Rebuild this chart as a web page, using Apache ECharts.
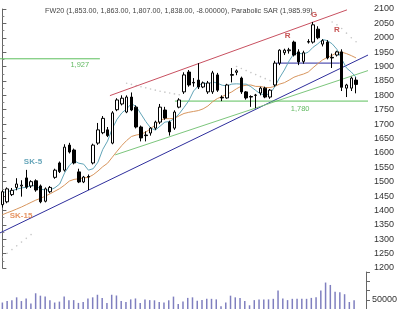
<!DOCTYPE html>
<html>
<head>
<meta charset="utf-8">
<script src="https://cdn.jsdelivr.net/npm/echarts@6/dist/echarts.min.js"></script>
<style>html,body{margin:0;padding:0;background:#fff;}#c{width:400px;height:309px;}</style>
</head>
<body>
<div id="c"></div>
<script>
// ---- data ----
var open = [1420,1430,1455,1480,1485,1513,1485,1503,1485,1432, 1465,1515,1565,1540,1627,1610,1534,1499,1518,1565, 1634,1670,1680,1634,1750,1770,1742,1794,1759,1690, 1662,1669,1686,1707,1749,1707,1686,1759,1812,1881, 1845,1853,1829,1812,1812,1871,1793,1791,1872,1880, 1860,1812,1796,1800,1808,1825,1794,1836,1912,1948, 1955,1985,1951,1918,1985,1985,2030,1978,1985,1932, 1940,1951,1825,1825,1853];
var close = [1465,1475,1470,1492,1488,1481,1500,1471,1430,1475, 1480,1540,1535,1620,1603,1565,1499,1516,1516,1627, 1680,1720,1660,1739,1784,1790,1794,1749,1690,1652, 1660,1686,1707,1759,1721,1673,1742,1784,1871,1836, 1843,1829,1843,1843,1878,1818,1791,1836,1870,1885, 1812,1791,1794,1801,1825,1794,1818,1912,1957,1957, 1958,1940,1916,1948,1987,2045,2000,1990,1930,1930, 1951,1828,1836,1860,1838];
var low = [1410,1425,1450,1470,1448,1475,1478,1465,1425,1428, 1460,1510,1530,1535,1598,1560,1495,1495,1471,1560, 1628,1665,1655,1630,1745,1765,1738,1745,1685,1640, 1640,1660,1680,1700,1715,1660,1680,1755,1805,1830, 1830,1822,1825,1805,1805,1812,1780,1788,1845,1870, 1805,1785,1760,1755,1800,1790,1788,1830,1905,1940, 1945,1935,1905,1910,1980,1980,1995,1970,1925,1895, 1935,1815,1794,1815,1807];
var high = [1470,1480,1478,1512,1505,1541,1505,1508,1490,1480, 1485,1545,1570,1630,1635,1615,1545,1520,1525,1632, 1704,1728,1690,1745,1790,1800,1800,1810,1765,1695, 1675,1690,1712,1770,1760,1712,1748,1790,1880,1888, 1860,1912,1848,1850,1885,1878,1800,1840,1895,1890, 1865,1815,1800,1805,1830,1830,1822,1920,1960,1962, 1965,1990,1960,1955,1995,2055,2040,1995,1992,1945, 1955,1960,1840,1865,1863];
var sk5 = [1462,1466,1468,1474,1478,1481,1486,1486,1474,1471, 1471,1479,1492,1530,1556,1573,1564,1561,1540,1545, 1568,1612,1641,1685,1717,1739,1753,1771,1761,1735, 1709,1687,1679,1693,1707,1709,1720,1736,1758,1781, 1815,1833,1844,1839,1847,1842,1835,1833,1839,1840, 1839,1839,1830,1817,1805,1801,1806,1830,1861,1888, 1920,1945,1946,1944,1950,1967,1979,1994,1990,1979, 1960,1926,1895,1881,1863];
var sk15 = [1385,1392,1398,1405,1412,1420,1428,1436,1442,1450, 1458,1467,1476,1488,1502,1508,1510,1513,1515,1524, 1537,1552,1564,1585,1606,1626,1643,1657,1662,1665, 1672,1684,1697,1713,1719,1719,1720,1729,1737,1741, 1744,1747,1753,1763,1778,1789,1796,1804,1812,1823, 1832,1835,1836,1831,1831,1827,1827,1831,1839,1844, 1853,1863,1869,1874,1881,1896,1910,1923,1932,1939, 1949,1950,1945,1938,1930];
var volume = [35000,43000,47000,63000,43000,57000,30000,85000,72000,68000, 47000,35000,40000,67000,47000,48000,33000,38000,57000,63000, 77000,60000,32000,77000,73000,43000,38000,52000,57000,33000, 52000,48000,47000,38000,35000,47000,67000,27000,40000,60000, 63000,45000,48000,55000,55000,52000,15000,35000,72000,63000, 60000,43000,20000,48000,52000,52000,52000,55000,100000,57000, 48000,55000,55000,55000,55000,60000,63000,100000,143000,130000, 93000,90000,80000,38000,47000];
var sarPoints = [[0,1238],[1,1251],[2,1264],[3,1277],[4,1290],[5,1303],[6,1316],
  [26,1842],[27,1838],[28,1834],[29,1830],[30,1826],[31,1822],[32,1818],[33,1814],[34,1811],[35,1808],[36,1805],[37,1802],
  [49,1900],[50,1893],[51,1886],[52,1879],[53,1872],[54,1865],[55,1858],[56,1851],
  [69,2055],[70,2045],[71,2032],[72,2016],[73,2000],[74,1986]];
var channelTop = [[22.5,1799],[72.1,2097]];
var supportBlue = [[-0.5,1322],[76.5,1940]];
var supportGreen = [[23.6,1593],[76.5,1886]];
var level1927 = [[-0.5,1927],[20.4,1927]];
var level1780 = [[36.1,1780],[76.5,1780]];
var neckline = [[57.4,1912],[70.6,1912]];
var notes = [['SK-5',6.4,1568],['SK-15',3.9,1381],['R',59.7,2006],['G',65.2,2079],['R',70.0,2027],['1,927',16.2,1927],['1,780',62.3,1780]];
var priceTicks = {min:1200, max:2100, step:50};
var volumeLabel = 50000;
var titleText = 'FW20 (1,853.00, 1,863.00, 1,807.00, 1,838.00, -8.00000), Parabolic SAR (1,985.99)';
var slotCount = 77;

// ---- build ----
var cats = [];
for (var i = 0; i < slotCount; i++) cats.push(String(i + 1));
var candles = open.map(function (o, k) { return [o, close[k], low[k], high[k]]; });
var noteColors = {'SK-5':'#3f8fa8','SK-15':'#e0783a','R':'#b82828','G':'#b82828','1,927':'#3aa83a','1,780':'#3aa83a'};
var noteOffsets = {'1,927':[0,6],'1,780':[0,8]};
var FONT = 'Liberation Sans, Arial, sans-serif';

function seg(data, color, width) {
  return {type:'line', xAxisIndex:2, yAxisIndex:0, data:data, symbol:'none', silent:true,
    lineStyle:{color:color, width:width||1}, z:3};
}

var option = {
  animation:false,
  backgroundColor:'#fff',
  title:{text:titleText, left:40, top:3, textStyle:{fontSize:7.2, fontWeight:'normal', color:'#444', fontFamily:FONT}},
  grid:[
    {left:0, right:32, top:9, height:259},
    {left:0, right:32, top:272, height:40}
  ],
  xAxis:[
    {type:'category', gridIndex:0, data:cats, show:false},
    {type:'category', gridIndex:1, data:cats, show:false},
    {type:'value', gridIndex:0, min:-0.5, max:slotCount-0.5, show:false}
  ],
  yAxis:[
    {type:'value', gridIndex:0, position:'right', min:priceTicks.min, max:priceTicks.max, interval:priceTicks.step,
     axisLine:{show:true, lineStyle:{color:'#666'}}, axisTick:{show:true, length:4, lineStyle:{color:'#666'}},
     minorTick:{show:true, splitNumber:2, length:2, lineStyle:{color:'#888'}},
     splitLine:{show:false},
     axisLabel:{fontSize:9, color:'#333', margin:6, fontFamily:FONT, formatter:function(v){return String(v);}}},
    {type:'value', gridIndex:1, position:'right', min:0, max:200000, interval:50000,
     axisLine:{show:true, lineStyle:{color:'#666'}}, axisTick:{show:true, length:4, lineStyle:{color:'#666'}},
     splitLine:{show:false},
     axisLabel:{fontSize:9, color:'#333', margin:6, fontFamily:FONT, formatter:function(v){return v===volumeLabel?String(v):'';}}}
  ],
  series:[
    seg(supportBlue,'#2e2e9c',1),
    seg(channelTop,'#c85060',1),
    seg(supportGreen,'#7cc67c',1),
    seg(level1927,'#5cbf5c',1),
    seg(level1780,'#5cbf5c',1),
    seg(neckline,'#2a2aa0',1),
    {type:'line', xAxisIndex:0, yAxisIndex:0, data:sk15, symbol:'none', lineStyle:{color:'#d8965e', width:1}, z:4},
    {type:'line', xAxisIndex:0, yAxisIndex:0, data:sk5, symbol:'none', lineStyle:{color:'#62a5b8', width:1}, z:4},
    {type:'scatter', xAxisIndex:0, yAxisIndex:0, data:sarPoints, symbol:'circle', symbolSize:1.6,
     itemStyle:{color:'#b8b8b8'}, z:2},
    {type:'candlestick', xAxisIndex:0, yAxisIndex:0, data:candles, barWidth:3,
     itemStyle:{color:'#ffffff', color0:'#000000', borderColor:'#000000', borderColor0:'#000000', borderWidth:1}, z:5},
    {type:'bar', xAxisIndex:1, yAxisIndex:1, data:volume, barWidth:1.5, itemStyle:{color:'#7f7fbf'}},
    {type:'scatter', xAxisIndex:2, yAxisIndex:0, symbolSize:0, z:6, silent:true,
     data:notes.map(function(n){
       return {value:[n[1], n[2]], name:n[0],
         label:{show:true, position:'inside', formatter:n[0], color:noteColors[n[0]],
           offset:noteOffsets[n[0]]||[0,0],
           fontSize:(n[0].charAt(0)==='1'?7.5:8), fontWeight:(n[0].charAt(0)==='1'?'normal':'bold'), fontFamily:FONT}};
     })}
  ]
};
var chart = echarts.init(document.getElementById('c'), null, {renderer:'canvas'});
chart.setOption(option);
</script>
</body>
</html>
